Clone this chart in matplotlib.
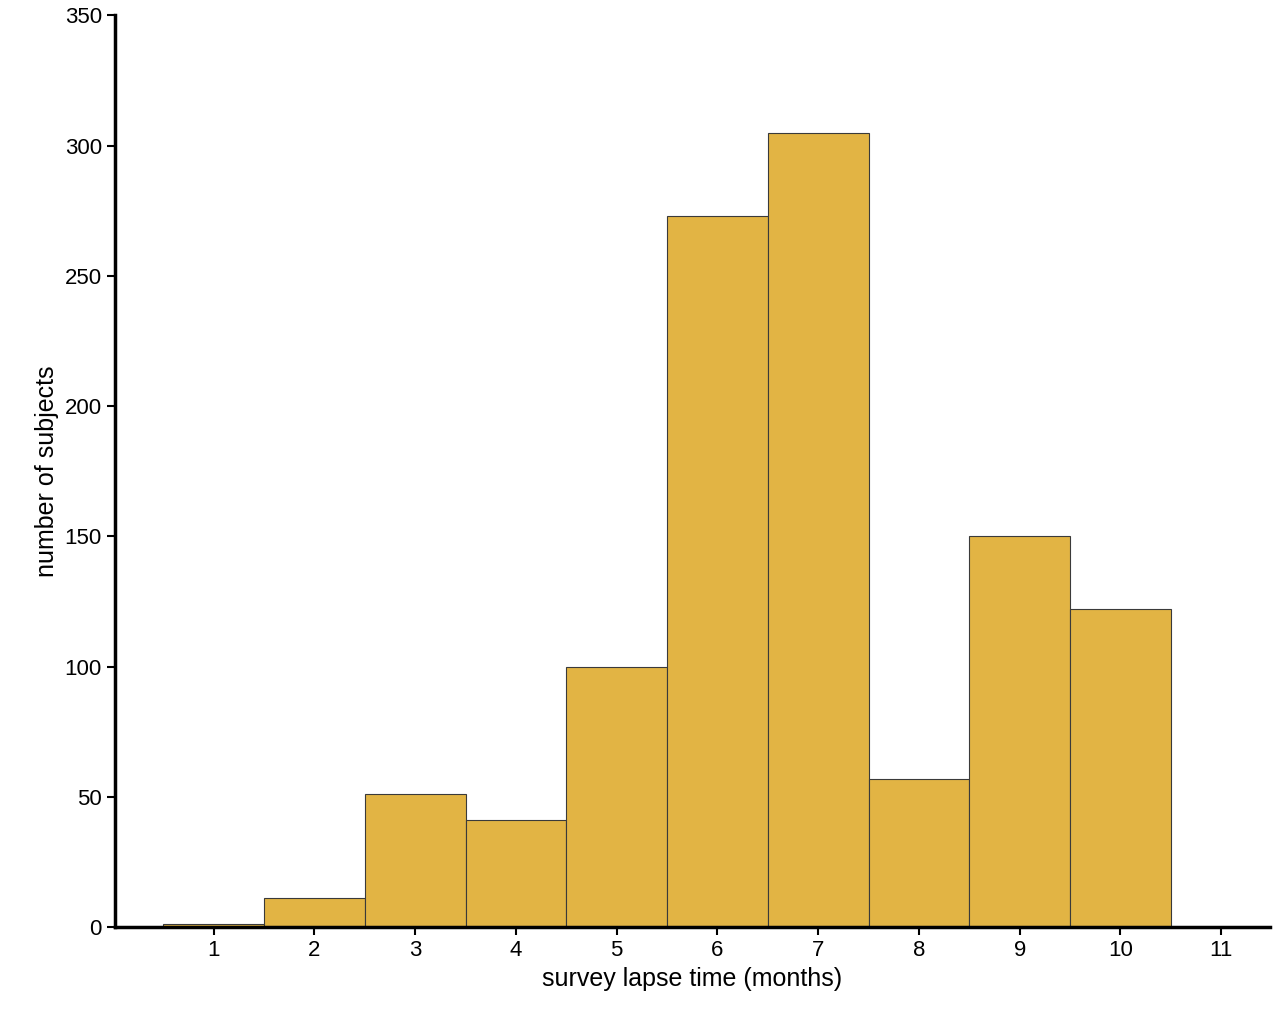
import matplotlib
matplotlib.use("Agg")
import matplotlib.pyplot as plt

months = [1, 2, 3, 4, 5, 6, 7, 8, 9, 10]
counts = [1, 11, 51, 41, 100, 273, 305, 57, 150, 122]
xticks = list(range(1, 12))
yticks = [0, 50, 100, 150, 200, 250, 300, 350]

plt.rcParams['font.family'] = ['Liberation Sans', 'DejaVu Sans']
fig = plt.figure(figsize=(12.8, 10.29), dpi=100)
ax = fig.add_axes([0.0898, 0.0991, 0.902, 0.886])
ax.bar(months, counts, width=1.0, color='#E2B444', edgecolor='#3a3a3a', linewidth=0.8)
ax.set_xlim(0.02, 11.48)
ax.set_ylim(0, 350)
ax.set_xticks(xticks)
ax.set_yticks(yticks)
for s in ['top', 'right']:
    ax.spines[s].set_visible(False)
for s in ['left', 'bottom']:
    ax.spines[s].set_linewidth(2.5)
ax.tick_params(axis='both', labelsize=16, width=1.5, length=6)
ax.set_xlabel('survey lapse time (months)', fontsize=18)
ax.set_ylabel('number of subjects', fontsize=18)
fig.savefig('out.png')
